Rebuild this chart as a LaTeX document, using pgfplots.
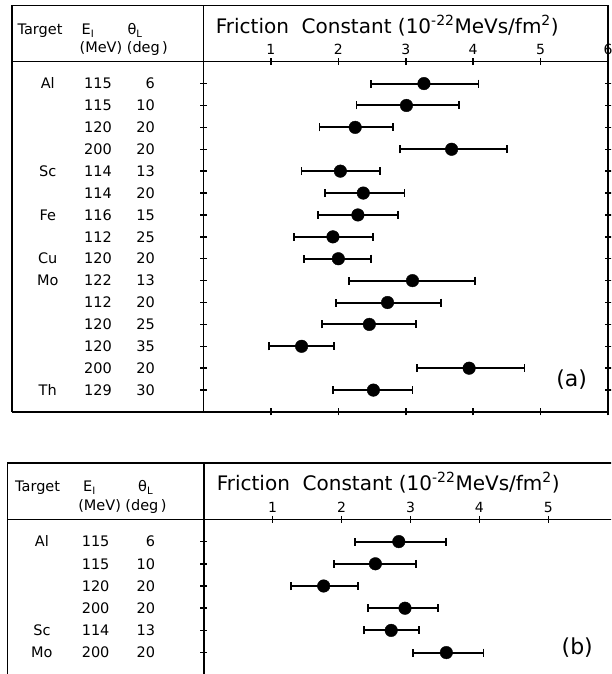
\documentclass[border=0pt]{standalone}
\usepackage{fontspec}
\setmainfont{DejaVu Sans}
\usepackage{pgfplots}
\pgfplotsset{compat=1.18}
\usepackage{pgfplotstable}

\pgfplotstableread{
y x ep em
-1 3.27 0.81 0.78
-2 3.01 0.78 0.74
-3 2.25 0.56 0.53
-4 3.68 0.82 0.76
-5 2.03 0.59 0.575
-6 2.37 0.61 0.57
-7 2.29 0.595 0.59
-8 1.92 0.60 0.58
-9 2.00 0.49 0.51
-10 3.10 0.93 0.94
-11 2.73 0.79 0.765
-12 2.46 0.69 0.70
-13 1.455 0.475 0.48
-14 3.94 0.82 0.77
-15 2.52 0.58 0.605
}\dataA

\pgfplotstableread{
y x ep em
-1 2.83 0.68 0.64
-2 2.49 0.59 0.60
-3 1.74 0.50 0.48
-4 2.92 0.48 0.54
-5 2.72 0.40 0.40
-6 3.52 0.54 0.48
}\dataB

\newcommand\lab{\fontsize{14.5}{14.5}\selectfont}
\newcommand\hdr{\fontsize{14.5}{14.5}\selectfont}
\newcommand\ttl{\fontsize{20}{20}\selectfont}

\newcommand\rowA[4]{%
  \node[anchor=base,yshift=-5.2pt] at (axis cs:-2.31,#1) {\lab #2};
  \node[anchor=base,yshift=-5.2pt] at (axis cs:-1.565,#1) {\lab #3};
  \node[anchor=base east,yshift=-5.2pt,inner xsep=0pt] at (axis cs:-0.72,#1) {\lab #4};}
\newcommand\rowB[4]{%
  \node[anchor=base,yshift=-5.2pt] at (axis cs:-2.35,#1) {\lab #2};
  \node[anchor=base,yshift=-5.2pt] at (axis cs:-1.57,#1) {\lab #3};
  \node[anchor=base east,yshift=-5.2pt,inner xsep=0pt] at (axis cs:-0.705,#1) {\lab #4};}

\pgfplotsset{
  panel/.style={
    scale only axis, xmin=0, xmax=6, ymax=0,
    axis line style={line width=1.6pt},
    tick align=center, major tick length=7pt,
    tick style={line width=1.5pt, black},
    /pgf/number format/assume math mode=true,
    xticklabel pos=upper,
    xticklabel style={font=\fontsize{14}{14}\selectfont, inner sep=0pt, anchor=south, yshift=3pt},
    yticklabels={},
    clip=false,
  },
  bars/.style={only marks, mark=*, mark size=6.3pt, black,
    error bars/.cd, x dir=both, x explicit,
    error mark=|,
    error bar style={line width=2pt},
    error mark options={line width=1.8pt, mark size=4pt, black}},
}

\begin{document}
\begin{tikzpicture}
\useasboundingbox (0,0) rectangle (611pt,674pt);
\clip (0,0) rectangle (611pt,674pt);

% ---------------- panel (a)
\begin{axis}[panel,
  at={(203.5pt,262pt)}, anchor=south west,
  width=404.5pt, height=350.3pt,
  ymin=-16,
  xtick={1,2,3,4,5,6},
  ytick={-15,-14,...,-1},
]
\addplot[bars] table[x=x,y=y,x error plus=ep,x error minus=em] {\dataA};
\draw[line width=1.6pt] (axis cs:-2.84,-16) -- (axis cs:-2.84,2.57) -- (axis cs:6,2.57) -- (axis cs:6,0);
\draw[line width=1.6pt] (axis cs:-2.84,0) -- (axis cs:0,0) -- (axis cs:0,2.57);
\draw[line width=1.6pt] (axis cs:-2.84,-16) -- (axis cs:0,-16);
\node[anchor=base west,inner sep=0pt] at (axis cs:-2.76,1.22) {\hdr Target};
\node[anchor=base west,inner sep=0pt] at (axis cs:-1.81,1.22) {\hdr E\textsubscript{I}};
\node[anchor=base west,inner sep=0pt] at (axis cs:-1.13,1.22) {\hdr θ\textsubscript{L}};
\node[anchor=base west,inner sep=0pt] at (axis cs:-1.84,0.40) {\hdr (MeV)};
\node[anchor=base west,inner sep=0pt] at (axis cs:-1.14,0.40) {\hdr (deg\,)};
\node[anchor=base west,inner sep=0pt] at (axis cs:0.18,1.31) {\ttl Friction\ \ Constant (10\textsuperscript{-22}MeVs/fm\textsuperscript{2})};
\node[inner sep=0pt] at (axis cs:5.46,-14.53) {\fontsize{22}{22}\selectfont (a)};
\rowA{-1}{Al}{115}{6}
\rowA{-2}{}{115}{10}
\rowA{-3}{}{120}{20}
\rowA{-4}{}{200}{20}
\rowA{-5}{Sc}{114}{13}
\rowA{-6}{}{114}{20}
\rowA{-7}{Fe}{116}{15}
\rowA{-8}{}{112}{25}
\rowA{-9}{Cu}{120}{20}
\rowA{-10}{Mo}{122}{13}
\rowA{-11}{}{112}{20}
\rowA{-12}{}{120}{25}
\rowA{-13}{}{120}{35}
\rowA{-14}{}{200}{20}
\rowA{-15}{Th}{129}{30}
\end{axis}

% ---------------- panel (b)
\begin{axis}[panel,
  at={(203.8pt,-11.9pt)}, anchor=south west,
  width=413.4pt, height=166.5pt,
  ymin=-7.5,
  xtick={1,2,3,4,5},
  ytick={-6,-5,...,-1},
]
\addplot[bars] table[x=x,y=y,x error plus=ep,x error minus=em] {\dataB};
\draw[line width=1.6pt] (axis cs:-2.85,-7.5) -- (axis cs:-2.85,2.55) -- (axis cs:6,2.55);
\draw[line width=1.6pt] (axis cs:-2.85,0) -- (axis cs:0,0) -- (axis cs:0,2.55);
\node[anchor=base west,inner sep=0pt] at (axis cs:-2.74,1.25) {\hdr Target};
\node[anchor=base west,inner sep=0pt] at (axis cs:-1.753,1.25) {\hdr E\textsubscript{I}};
\node[anchor=base west,inner sep=0pt] at (axis cs:-0.955,1.25) {\hdr θ\textsubscript{L}};
\node[anchor=base west,inner sep=0pt] at (axis cs:-1.825,0.38) {\hdr (MeV)};
\node[anchor=base west,inner sep=0pt] at (axis cs:-1.14,0.38) {\hdr (deg\,)};
\node[anchor=base west,inner sep=0pt] at (axis cs:0.186,1.32) {\ttl Friction\ \ Constant (10\textsuperscript{-22}MeVs/fm\textsuperscript{2})};
\node[inner sep=0pt] at (axis cs:5.42,-5.79) {\fontsize{22}{22}\selectfont (b)};
\rowB{-1}{Al}{115}{6}
\rowB{-2}{}{115}{10}
\rowB{-3}{}{120}{20}
\rowB{-4}{}{200}{20}
\rowB{-5}{Sc}{114}{13}
\rowB{-6}{Mo}{200}{20}
\end{axis}
\end{tikzpicture}
\end{document}
